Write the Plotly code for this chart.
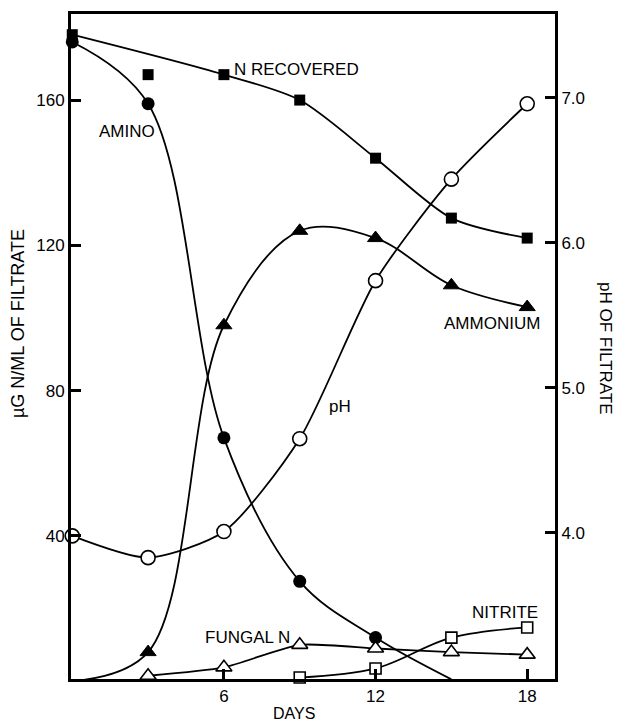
import plotly.graph_objects as go

# ---- data ----
days = [0, 3, 6, 9, 12, 15, 18]
n_recovered = [178, 167, 167, 160, 144, 127.5, 122]
amino_days = [0, 3, 6, 9, 12, 15]
amino = [176, 159, 67, 27.5, 12, 0.5]
ammonium = [0, 8, 98, 124, 122, 109, 103]
ph = [3.98, 3.83, 4.01, 4.65, 5.74, 6.44, 6.96]
fungal_days = [3, 6, 9, 12, 15, 18]
fungal_n = [1.5, 3.8, 10, 9, 8, 7.3]
nitrite_days = [9, 12, 15, 18]
nitrite = [1, 3.5, 12, 14.8]

x_ticks = [6, 12, 18]
y_ticks = [40, 80, 120, 160]
ph_ticks = [4.0, 5.0, 6.0, 7.0]
ph_tick_labels = ["4.0", "5.0", "6.0", "7.0"]

BLACK = "#000000"
LW = 1.8

fig = go.Figure()

# N recovered: line drawn through all points but day 3 (off-curve point)
line_idx = [i for i in range(len(days)) if days[i] != 3]
fig.add_trace(go.Scatter(
    x=[days[i] for i in line_idx], y=[n_recovered[i] for i in line_idx],
    mode="lines", line=dict(color=BLACK, width=LW, shape="spline", smoothing=0.8),
    hoverinfo="skip", cliponaxis=False))
fig.add_trace(go.Scatter(
    x=days, y=n_recovered, mode="markers",
    marker=dict(symbol="square", size=11, color=BLACK), cliponaxis=False))

# Amino
fig.add_trace(go.Scatter(
    x=amino_days, y=amino, mode="lines+markers",
    line=dict(color=BLACK, width=LW, shape="spline", smoothing=1.0),
    marker=dict(symbol="circle", size=13, color=BLACK), cliponaxis=False))

# Ammonium: curve starts at the origin, markers only from day 3 on
fig.add_trace(go.Scatter(
    x=days, y=ammonium, mode="lines",
    line=dict(color=BLACK, width=LW, shape="spline", smoothing=1.0),
    hoverinfo="skip", cliponaxis=False))
fig.add_trace(go.Scatter(
    x=days[1:], y=ammonium[1:], mode="markers",
    marker=dict(symbol="triangle-up", size=14, color=BLACK,
                line=dict(color=BLACK, width=1)),
    cliponaxis=False))

# Fungal N
fig.add_trace(go.Scatter(
    x=fungal_days, y=fungal_n, mode="lines+markers",
    line=dict(color=BLACK, width=LW, shape="spline", smoothing=0.6),
    marker=dict(symbol="triangle-up", size=14, color="white",
                line=dict(color=BLACK, width=1.6)), cliponaxis=False))

# Nitrite
fig.add_trace(go.Scatter(
    x=nitrite_days, y=nitrite, mode="lines+markers",
    line=dict(color=BLACK, width=LW, shape="spline", smoothing=1.0),
    marker=dict(symbol="square", size=11, color="white",
                line=dict(color=BLACK, width=1.6)), cliponaxis=False))

# pH (right axis)
fig.add_trace(go.Scatter(
    x=days, y=ph, mode="lines+markers", yaxis="y2",
    line=dict(color=BLACK, width=LW, shape="spline", smoothing=0.7),
    marker=dict(symbol="circle", size=14, color="white",
                line=dict(color=BLACK, width=1.6)), cliponaxis=False))

FONT = "Liberation Sans, Arial, Helvetica, sans-serif"
L, R, T, B = 71, 555, 14, 679
W, H = 618, 725
PW, PH = R - L, B - T


def px(xp):
    return (xp - L) / PW


def py(yp):
    return (B - yp) / PH


labels = [
    ("N RECOVERED", 232, 69),
    ("AMINO", 97, 131),
    ("AMMONIUM", 442, 323),
    ("pH", 327, 406),
    ("FUNGAL N", 203, 637),
    ("NITRITE", 470, 612),
]
annotations = []
for text, xl, yc in labels:
    annotations.append(dict(text=text, x=px(xl), y=py(yc), xref="paper", yref="paper",
                            xanchor="left", yanchor="middle", showarrow=False,
                            font=dict(size=17, color=BLACK, family=FONT)))

annotations.append(dict(text="\u00b5G N/ML OF FILTRATE", x=px(18), y=py(324),
                        xref="paper", yref="paper", textangle=-90, showarrow=False,
                        xanchor="center", yanchor="middle",
                        font=dict(size=18, color=BLACK, family=FONT)))
annotations.append(dict(text="pH OF FILTRATE", x=px(606), y=py(348),
                        xref="paper", yref="paper", textangle=90, showarrow=False,
                        xanchor="center", yanchor="middle",
                        font=dict(size=17, color=BLACK, family=FONT)))
annotations.append(dict(text="DAYS", x=px(294), y=py(713),
                        xref="paper", yref="paper", showarrow=False,
                        xanchor="center", yanchor="middle",
                        font=dict(size=16, color=BLACK, family=FONT)))

axis_common = dict(showgrid=False, zeroline=False, showline=True, linecolor=BLACK,
                   linewidth=3, ticks="inside", ticklen=10, tickwidth=3, tickcolor=BLACK,
                   tickfont=dict(size=17, color=BLACK, family=FONT))

fig.update_layout(
    width=W, height=H,
    margin=dict(l=L, r=W - R, t=T, b=H - B, pad=0),
    paper_bgcolor="white", plot_bgcolor="white",
    showlegend=False,
    xaxis=dict(range=[-0.05, 19.1], tickvals=x_ticks, ticktext=[str(v) for v in x_ticks],
               mirror=True, **axis_common),
    yaxis=dict(range=[0.6, 183.7], tickvals=y_ticks, ticktext=[str(v) for v in y_ticks],
               **axis_common),
    yaxis2=dict(range=[2.993, 7.579], overlaying="y", side="right", anchor="x",
                tickvals=ph_ticks, ticktext=ph_tick_labels, **axis_common),
    annotations=annotations,
)

fig.write_html("out.html")
